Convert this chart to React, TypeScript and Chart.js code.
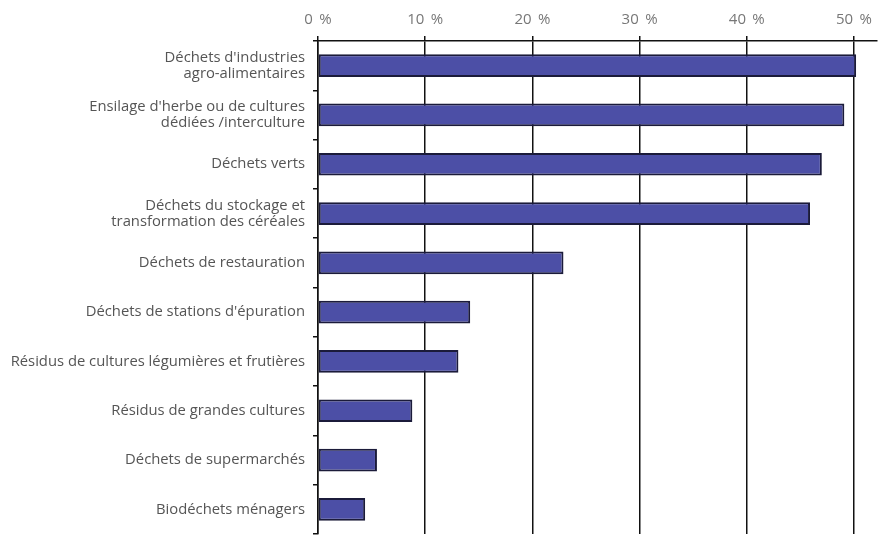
import { useEffect, useRef } from "react";
import Chart from "chart.js/auto";

const categories: (string | string[])[] = [
  ["Déchets d'industries", "agro-alimentaires"],
  ["Ensilage d'herbe ou de cultures", "dédiées /interculture"],
  "Déchets verts",
  ["Déchets du stockage et", "transformation des céréales"],
  "Déchets de restauration",
  "Déchets de stations d'épuration",
  "Résidus de cultures légumières et frutières",
  "Résidus de grandes cultures",
  "Déchets de supermarchés",
  "Biodéchets ménagers",
];

const shares = [50.2, 49.1, 47.0, 45.9, 22.9, 14.2, 13.1, 8.8, 5.5, 4.4];

const xTicks = [0, 10, 20, 30, 40, 50];

export default function App() {
  const canvasRef = useRef<HTMLCanvasElement | null>(null);
  const chartRef = useRef<Chart | null>(null);

  useEffect(() => {
    document.body.style.margin = "0";
    if (!canvasRef.current) return;
    if (chartRef.current) chartRef.current.destroy();

    chartRef.current = new Chart(canvasRef.current, {
      type: "bar",
      data: {
        labels: categories,
        datasets: [
          {
            data: shares,
            backgroundColor: "#4c4fa6",
            borderColor: "#1b1b3a",
            borderWidth: 2,
            borderSkipped: false,
            barPercentage: 0.46,
            categoryPercentage: 1,
          },
        ],
      },
      options: {
        indexAxis: "y",
        animation: false,
        responsive: true,
        maintainAspectRatio: false,
        layout: { padding: { top: 0, right: 1, bottom: 2, left: 0 } },
        plugins: {
          legend: { display: false },
          tooltip: { enabled: false },
        },
        scales: {
          x: {
            position: "top",
            min: 0,
            max: 52.1,
            afterBuildTicks: (scale: any) => {
              scale.ticks = xTicks.map((v) => ({ value: v }));
            },
            afterFit: (scale: any) => {
              scale.height = 41;
            },
            ticks: {
              padding: 7,
              color: "#777",
              font: { family: "Open Sans", size: 15 },
              callback: (v: any) => `${v}\u2009 %`,
            },
            grid: {
              color: "#111",
              lineWidth: 1.5,
              tickLength: 5,
            },
            border: { color: "#111", width: 1.5 },
          },
          y: {
            afterFit: (scale: any) => {
              scale.width = 318;
              scale.paddingTop = 0;
              scale.paddingBottom = 0;
            },
            ticks: {
              padding: 8,
              color: "#555",
              font: { family: "Open Sans", size: 14.8, lineHeight: 1.1 },
            },
            grid: {
              drawOnChartArea: false,
              color: "#111",
              lineWidth: 1.5,
              tickLength: 5,
              offset: true,
            },
            border: { color: "#111", width: 1.5 },
          },
        },
      },
    });

    return () => {
      if (chartRef.current) {
        chartRef.current.destroy();
        chartRef.current = null;
      }
    };
  }, []);

  return (
    <div style={{ position: "relative", width: 879, height: 536 }}>
      <canvas ref={canvasRef} />
    </div>
  );
}
